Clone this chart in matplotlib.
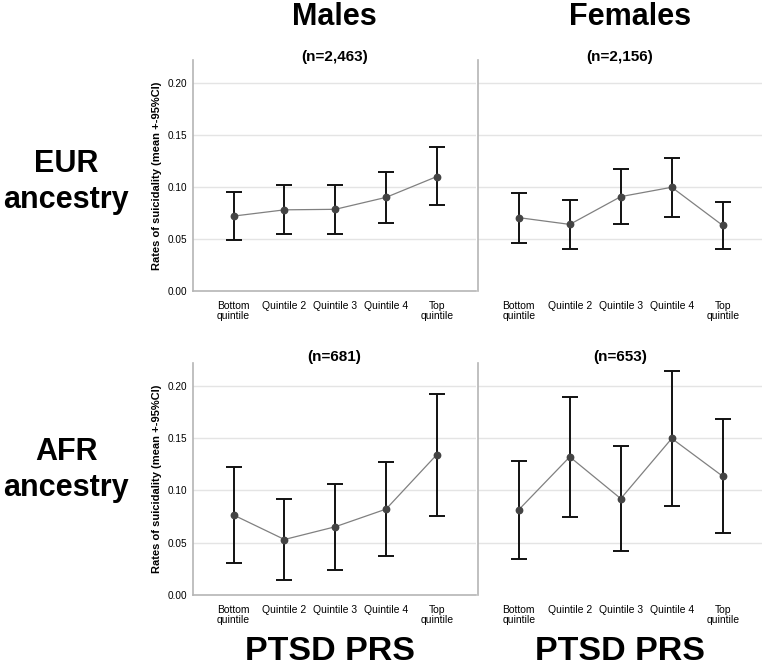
import matplotlib
matplotlib.use("Agg")
import matplotlib.pyplot as plt

plt.rcParams["font.family"] = ["Liberation Sans", "DejaVu Sans"]

# ---------- data ----------
quintiles = ["Bottom\nquintile", "Quintile 2", "Quintile 3", "Quintile 4", "Top\nquintile"]

eur_male_mean = [0.072, 0.078, 0.0785, 0.090, 0.110]
eur_male_low = [0.049, 0.0545, 0.0545, 0.065, 0.0825]
eur_male_high = [0.095, 0.1015, 0.102, 0.1147, 0.1385]

eur_female_mean = [0.0705, 0.064, 0.0907, 0.0997, 0.063]
eur_female_low = [0.0462, 0.0404, 0.0641, 0.0712, 0.0404]
eur_female_high = [0.0946, 0.087, 0.1176, 0.1282, 0.0856]

afr_male_mean = [0.0765, 0.0531, 0.0653, 0.0822, 0.1344]
afr_male_low = [0.0304, 0.0144, 0.0237, 0.0371, 0.0758]
afr_male_high = [0.1226, 0.0915, 0.1066, 0.1274, 0.1926]

afr_female_mean = [0.0816, 0.1322, 0.0922, 0.1498, 0.1136]
afr_female_low = [0.0349, 0.0746, 0.0422, 0.0851, 0.0592]
afr_female_high = [0.128, 0.1898, 0.1424, 0.2144, 0.1686]

sample_sizes = ["(n=2,463)", "(n=2,156)", "(n=681)", "(n=653)"]
col_labels = ["Males", "Females"]
row_labels = ["EUR\nancestry", "AFR\nancestry"]
y_ticks = [0.0, 0.05, 0.10, 0.15, 0.20]

W, H = 765, 668
fig = plt.figure(figsize=(W / 100, H / 100), dpi=100)


def px_axes(x0, y0, x1, y1):
    return fig.add_axes([x0 / W, 1 - y1 / H, (x1 - x0) / W, (y1 - y0) / H])


panels = [
    (px_axes(193, 60, 476, 291), eur_male_mean, eur_male_low, eur_male_high, True, 1.013),
    (px_axes(478, 60, 762, 291), eur_female_mean, eur_female_low, eur_female_high, False, 1.013),
    (px_axes(193, 363, 476, 595), afr_male_mean, afr_male_low, afr_male_high, True, 1.026),
    (px_axes(478, 363, 762, 595), afr_female_mean, afr_female_low, afr_female_high, False, 1.026),
]

x = list(range(len(quintiles)))
for i, (ax, mean, low, high, left_col, ty) in enumerate(panels):
    err = [[m - l for m, l in zip(mean, low)], [h - m for m, h in zip(mean, high)]]
    ax.plot(x, mean, color="#808080", lw=0.9, zorder=2)
    ax.errorbar(x, mean, yerr=err, fmt="none", ecolor="#111111", elinewidth=1.4,
                capsize=5.8, capthick=1.4, zorder=3)
    ax.plot(x, mean, "o", color="#444444", ms=4.6, zorder=4)

    ax.set_xlim(-0.8, 4.77)
    ax.set_ylim(0, 0.222)
    ax.set_yticks(y_ticks)
    ax.set_xticks(x)
    ax.set_xticklabels(quintiles, fontsize=7.5, linespacing=1.0)
    ax.tick_params(length=0, pad=7)
    ax.tick_params(axis="y", pad=4, labelsize=7.2)
    for yv in y_ticks[1:]:
        ax.axhline(yv, color="#e4e4e4", lw=1.0, zorder=0)

    for side in ["top", "right"]:
        ax.spines[side].set_visible(False)
    ax.spines["left"].set_color("#b5b5b5")
    ax.spines["left"].set_linewidth(1.2)
    ax.spines["bottom"].set_color("#b5b5b5")
    ax.spines["bottom"].set_linewidth(1.2)

    if left_col:
        ax.set_ylabel("Rates of suicidality (mean +-95%CI)", fontsize=8, fontweight="bold")
        ax.yaxis.set_label_coords(-0.11, 0.5)
    else:
        ax.set_yticklabels([])
        ax.spines["bottom"].set_visible(False)

    ax.text(0.5, ty, sample_sizes[i], transform=ax.transAxes, ha="center", va="center",
            fontsize=11, fontweight="bold")

# column headers, row headers, x group labels
for cx, label in zip([334, 630], col_labels):
    fig.text(cx / W, 1 - 17 / H, label, ha="center", va="center", fontsize=22, fontweight="bold")
for cx in [330, 620]:
    fig.text(cx / W, 1 - 652 / H, "PTSD PRS", ha="center", va="center", fontsize=24.5, fontweight="bold")

for cy, label in zip([182, 470], row_labels):
    fig.text(66 / W, 1 - cy / H, label, ha="center", va="center", fontsize=22,
             fontweight="bold", linespacing=1.25)

fig.savefig("out.png", dpi=100)
